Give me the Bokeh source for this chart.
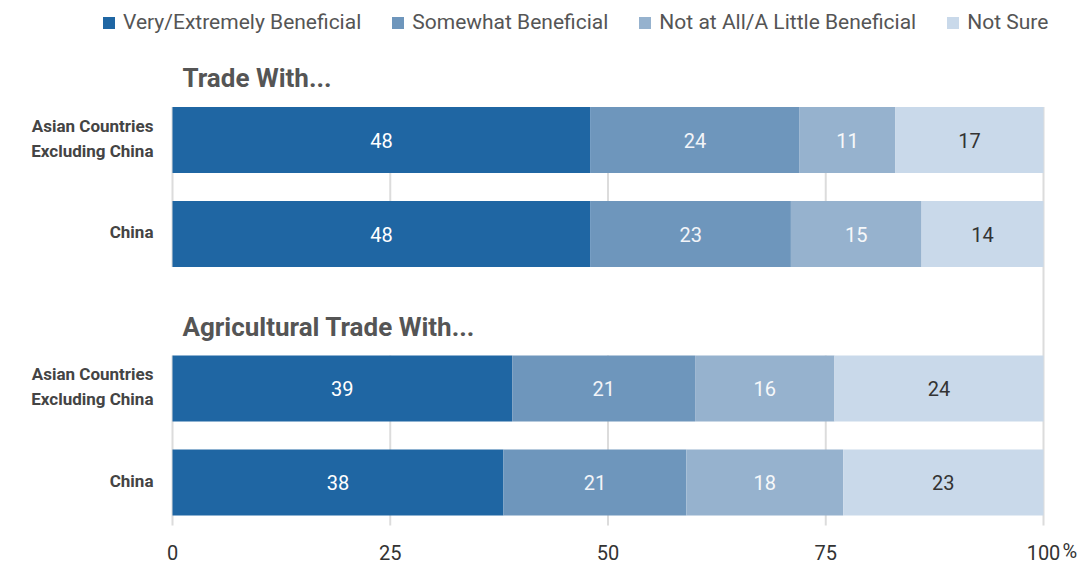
from bokeh.plotting import figure
from bokeh.models import Range1d, ColumnDataSource, Legend
from bokeh.core.properties import value
from bokeh.embed import file_html
from bokeh.resources import INLINE

# ---------------- data ----------------
groups = ["Trade With...", "Agricultural Trade With..."]
categories = ["Asian Countries\nExcluding China", "China"]
series = ["Very/Extremely Beneficial", "Somewhat Beneficial",
          "Not at All/A Little Beneficial", "Not Sure"]
very_extremely = [48, 48, 39, 38]
somewhat = [24, 23, 21, 21]
little = [11, 15, 16, 18]
not_sure = [17, 14, 24, 23]
x_ticks = [0, 25, 50, 75, 100]
x_tick_labels = ["0", "25", "50", "75", "100"]
unit_label = "%"

# ---------------- style / layout ----------------
FONT = "Roboto"
colors = ["#1f66a3", "#6e96bc", "#96b2ce", "#c9d9ea"]
label_colors = ["#ffffff", "#f2f4f8", "#f6f8fa", "#333333"]
GRID = "#dcdcdc"

FRAME_W, FRAME_H = 1080, 568
X0_PX, X100_PX = 172, 1043          # px of 0 and 100 inside frame
ppu = (X100_PX - X0_PX) / 100.0
x_start = -X0_PX / ppu
x_end = 100 + (FRAME_W - X100_PX) / ppu

Y_FIRST, ROW_STEP, GROUP_STEP, BAR_H = 139.5, 94, 248.5, 66
TICK_LABEL_Y = 552

p = figure(frame_width=FRAME_W, frame_height=FRAME_H,
           x_range=Range1d(x_start, x_end),
           y_range=Range1d(FRAME_H, 0),
           output_backend="svg", toolbar_location=None,
           x_axis_location=None, y_axis_location=None, min_border=0)
p.outline_line_color = None
p.grid.visible = False
p.background_fill_color = "white"

n_rows = len(very_extremely)
ys = [Y_FIRST + (i // 2) * GROUP_STEP + (i % 2) * ROW_STEP for i in range(n_rows)]

# gridlines per group
for g in range(len(groups)):
    top = Y_FIRST + g * GROUP_STEP - BAR_H / 2
    bottom = Y_FIRST + g * GROUP_STEP + ROW_STEP + BAR_H / 2 + (10 if g == len(groups) - 1 else 0)
    ticks = x_ticks[:-1]
    p.segment(x0=ticks, x1=ticks, y0=[top] * len(ticks), y1=[bottom] * len(ticks),
              line_color=GRID, line_width=2)
full_top = Y_FIRST - BAR_H / 2
full_bottom = Y_FIRST + (len(groups) - 1) * GROUP_STEP + ROW_STEP + BAR_H / 2 + 10
p.segment(x0=[x_ticks[-1]], x1=[x_ticks[-1]], y0=[full_top], y1=[full_bottom],
          line_color=GRID, line_width=2)

# stacked bars
vals = [very_extremely, somewhat, little, not_sure]
left = [0.0] * n_rows
items = []
for k, (name, v) in enumerate(zip(series, vals)):
    right = [l + x for l, x in zip(left, v)]
    src = ColumnDataSource(dict(y=ys, left=left, right=right,
                                mid=[(l + r) / 2 for l, r in zip(left, right)],
                                txt=[str(x) for x in v]))
    r = p.hbar(y="y", left="left", right="right", height=BAR_H, source=src,
               fill_color=colors[k], line_color=None)
    items.append((name, [r]))
    p.text(x="mid", y="y", text="txt", source=src, text_align="center",
           text_baseline="middle", text_font=value(FONT), text_font_size="20px",
           text_color=label_colors[k])
    left = right

# category labels
cat_src = ColumnDataSource(dict(x=[0] * n_rows, y=[y - 2 for y in ys],
                                t=[categories[i % 2] for i in range(n_rows)]))
p.text(x="x", y="y", text="t", source=cat_src, x_offset=-19, text_align="right",
       text_baseline="middle", text_font=value(FONT), text_font_size="17px",
       text_font_style="bold", text_color="#444444", text_line_height=1.25)

# group titles
title_src = ColumnDataSource(dict(x=[0] * len(groups),
                                  y=[Y_FIRST + g * GROUP_STEP - 62 for g in range(len(groups))],
                                  t=groups))
p.text(x="x", y="y", text="t", source=title_src, x_offset=10, text_align="left",
       text_baseline="middle", text_font=value(FONT), text_font_size="26px",
       text_font_style="bold", text_color="#555555")

# x tick labels (drawn through the x scale)
p.text(x=x_ticks, y=[TICK_LABEL_Y] * len(x_ticks), text=x_tick_labels,
       text_align="center", text_baseline="middle", text_font=value(FONT),
       text_font_size="20px", text_color="#333333")
p.text(x=[x_ticks[-1]], y=[TICK_LABEL_Y - 2], text=[unit_label], x_offset=19,
       text_align="left", text_baseline="middle", text_font=value(FONT),
       text_font_size="20px", text_color="#333333")

# legend
legend = Legend(items=items, orientation="horizontal", location=(101, FRAME_H - 34),
                glyph_width=15, glyph_height=15, label_standoff=7, spacing=29,
                padding=0, margin=0, border_line_color=None, background_fill_alpha=0,
                label_text_font=FONT, label_text_font_size="21px",
                label_text_color="#555555")
p.add_layout(legend)

open("out.html", "w").write(file_html(p, INLINE))
